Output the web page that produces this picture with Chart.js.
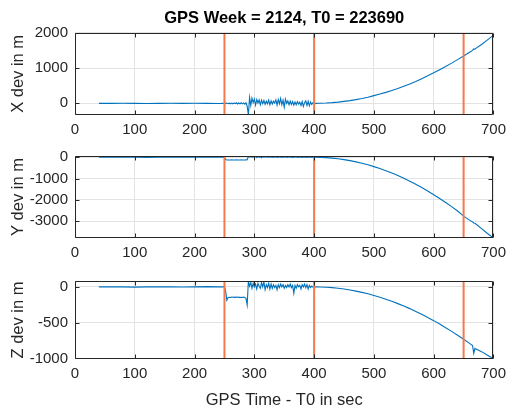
<!DOCTYPE html>
<html>
<head>
<meta charset="utf-8">
<script src="https://cdn.jsdelivr.net/npm/chart.js@4.4.1/dist/chart.umd.min.js"></script>
<style>
  html, body { margin: 0; padding: 0; background: #fff; }
  #wrap { position: relative; width: 512px; height: 411px; overflow: hidden; }
  .panel { position: absolute; left: 0; width: 512px; }
</style>
</head>
<body>
<div id="wrap">
  <div class="panel" style="top:0px;height:140px"><canvas id="cX" width="512" height="140"></canvas></div>
  <div class="panel" style="top:140px;height:125px"><canvas id="cY" width="512" height="125"></canvas></div>
  <div class="panel" style="top:265px;height:146px"><canvas id="cZ" width="512" height="146"></canvas></div>
</div>
<script>
// tiempo relativo a T0 (s)
const timeSec = [
  40, 60, 80, 100, 120, 140, 160, 180, 200, 220, 240, 250,
  252, 254, 256, 258, 260, 262, 264, 266, 268, 270, 272, 274, 276, 278, 280, 282, 284, 286, 288,
  290, 292, 294, 296, 298, 300, 302, 304, 306, 308,
  310, 312, 314, 316, 318, 320, 322, 324, 326, 328,
  330, 332, 334, 336, 338, 340, 342, 344, 346, 348,
  350, 352, 354, 356, 358, 360, 362, 364, 366, 368,
  370, 372, 374, 376, 378, 380, 382, 384, 386, 388,
  390, 392, 394, 396, 398, 400,
  410, 420, 430, 440, 450, 460, 470, 480, 490, 500, 510, 520, 530,
  540, 550, 560, 570, 580, 590, 600, 610, 620, 630, 640, 650, 660,
  665, 667, 669, 670, 680, 690, 700
];

// desviaciones en metros
const xDev = [
  0, 0, 2, 0, -2, 0, 3, 0, 2, 0, -2, 0,
  0, 8, -8, 5, -12, 8, -15, 12, -8, 15, -18, 10, -12, 18, -15, 12, -22, 15, -80,
  -330, 170, -60, 150, 20, 120, -50, 110, 10, 100,
  -40, 90, -10, 80, -30, 60, -10, 90, -40, 70,
  -20, 60, 10, 100, -50, 110, -10, 140, -40, 90,
  -110, 120, 0, 70, -40, 60, -30, 50, -50, 40,
  -40, 50, -20, 30, -60, 50, -90, 20, 70, -60,
  60, -70, 40, -30, 20, 0,
  2, 9, 20, 35, 55, 78, 105, 138, 175, 220, 265, 312, 365,
  420, 485, 550, 620, 700, 780, 865, 955, 1045, 1140, 1240, 1345, 1450,
  1500, 1545, 1535, 1550, 1670, 1800, 1935
];

const yDev = [
  0, 0, 5, 0, -5, 0, 5, 0, 0, 5, 0, 0,
  -110, -130, -128, -125, -127, -124, -126, -125, -128, -124, -126, -125, -127, -124, -126, -125, -127, -124, -120,
  50, 10, 40, -5, 30, 5, 35, -10, 30, 0,
  35, -20, 25, 5, 30, 0, 20, -10, 25, 0,
  15, -5, 20, 0, 15, -10, 20, 0, 15, -5,
  20, 0, 15, -5, 20, 0, 15, -5, 15, 0,
  20, -5, 15, 0, 15, -5, 15, 0, 10, -5,
  15, 0, 10, -5, 5, 0,
  -4, -18, -40, -70, -110, -158, -215, -282, -356, -440, -532, -634, -744,
  -862, -990, -1126, -1272, -1426, -1588, -1760, -1940, -2130, -2325, -2530, -2770, -2960,
  -3040, -3090, -3110, -3130, -3360, -3590, -3800
];

const zDev = [
  0, 2, 0, -3, 0, 2, 0, -2, 0, 3, 0, 0,
  -60, -188, -150, -145, -148, -142, -146, -144, -147, -143, -146, -144, -150, -145, -148, -143, -150, -160, -253,
  82, 10, 60, -20, 50, 0, 40, -30, 50, 10,
  -20, 60, 0, 70, -40, 30, -10, 50, -30, 40,
  -20, 30, -10, 20, -40, 30, -10, 40, 0, 30,
  -20, 20, -10, 30, 0, 40, -10, 20, -90, 20,
  -20, 30, 0, 20, -30, 30, 0, 40, -10, 30,
  -30, 20, -10, 10, -5, 0,
  -1, -5, -11, -19, -30, -43, -59, -77, -97, -120, -145, -172, -202,
  -234, -268, -304, -343, -384, -427, -472, -520, -570, -622, -676, -733, -790,
  -820, -930, -860, -865, -905, -955, -1005
];

// instantes marcados con líneas verticales
const eventTimes = [250, 400, 650];

const xTickVals = [0, 100, 200, 300, 400, 500, 600, 700];
const xTickValsY = [-3000, -2000, -1000, 0];
const yTickValsX = [0, 1000, 2000];
const zTickVals = [-1000, -500, 0];

const fontFam = "'Liberation Sans', Arial, Helvetica, sans-serif";
const textColor = "#262626";
const gridColor = "#e3e3e3";
const blue = "#0072bd";
const orange = "#f5794a";

// caja y marcas interiores estilo MATLAB
const boxPlugin = {
  id: "boxTicks",
  afterDatasetsDraw(chart) {
    const { ctx, chartArea: a, scales } = chart;
    const L = Math.round(a.left) + 0.5, R = Math.round(a.right) - 0.5;
    const T = Math.round(a.top) + 0.5, B = Math.round(a.bottom) - 0.5;
    ctx.save();
    ctx.strokeStyle = textColor;
    ctx.lineWidth = 1;
    ctx.beginPath();
    ctx.rect(L, T, R - L, B - T);
    scales.x.ticks.forEach((t) => {
      const px = Math.round(scales.x.getPixelForValue(t.value)) + 0.5;
      ctx.moveTo(px, B); ctx.lineTo(px, B - 4);
      ctx.moveTo(px, T); ctx.lineTo(px, T + 4);
    });
    scales.y.ticks.forEach((t) => {
      const py = Math.round(scales.y.getPixelForValue(t.value)) + 0.5;
      ctx.moveTo(L, py); ctx.lineTo(L + 4, py);
      ctx.moveTo(R, py); ctx.lineTo(R - 4, py);
    });
    ctx.stroke();
    ctx.restore();
  },
};

const plain = (v) => String(v);

function makePanel(id, values, yMin, yMax, yTicks, yTitle, cfg) {
  const series = timeSec.map((t, i) => ({ x: t, y: values[i] }));
  const eventSets = eventTimes.map((t) => ({
    data: [{ x: t, y: yMin }, { x: t, y: yMax }],
    borderColor: orange,
    borderWidth: 2,
    pointRadius: 0,
    order: 1,
  }));

  return new Chart(document.getElementById(id), {
    type: "line",
    data: {
      datasets: [
        ...eventSets,
        {
          data: series,
          borderColor: blue,
          borderWidth: 1.1,
          pointRadius: 0,
          tension: 0,
          order: 2,
        },
      ],
    },
    options: {
      responsive: false,
      animation: false,
      layout: { padding: { top: cfg.padTop, right: 15, left: 0, bottom: 0 } },
      plugins: {
        legend: { display: false },
        tooltip: { enabled: false },
        title: cfg.title
          ? {
              display: true,
              fullSize: false,
              text: cfg.title,
              color: "#000",
              font: { family: fontFam, size: 16.5, weight: "bold" },
              padding: { top: 9, bottom: 4 },
            }
          : { display: false },
      },
      scales: {
        x: {
          type: "linear",
          min: 0,
          max: 700,
          afterBuildTicks: (s) => { s.ticks = xTickVals.map((v) => ({ value: v })); },
          afterFit: (s) => { s.height = cfg.xHeight; },
          grid: { color: gridColor, drawTicks: false },
          border: { display: false },
          ticks: { color: textColor, padding: 6, maxRotation: 0, callback: plain, font: { family: fontFam, size: 15 } },
          title: cfg.xTitle
            ? {
                display: true,
                text: cfg.xTitle,
                color: textColor,
                font: { family: fontFam, size: 16.5 },
                padding: { top: 0, bottom: 1 },
              }
            : { display: false },
        },
        y: {
          type: "linear",
          min: yMin,
          max: yMax,
          afterBuildTicks: (s) => { s.ticks = yTicks.map((v) => ({ value: v })); },
          afterFit: (s) => { s.width = 75; },
          grid: { color: gridColor, drawTicks: false },
          border: { display: false },
          ticks: { color: textColor, padding: 7, callback: plain, font: { family: fontFam, size: 15 } },
          title: {
            display: true,
            text: yTitle,
            color: textColor,
            font: { family: fontFam, size: 16.5 },
            padding: { top: 9, bottom: 0 },
          },
        },
      },
    },
    plugins: [boxPlugin],
  });
}

makePanel("cX", xDev, -330, 2000, yTickValsX, "X dev in m", {
  padTop: 0, xHeight: 25, title: "GPS Week = 2124, T0 = 223690",
});
makePanel("cY", yDev, -3800, 60, xTickValsY, "Y dev in m", {
  padTop: 14, xHeight: 27,
});
makePanel("cZ", zDev, -1008, 82, zTickVals, "Z dev in m", {
  padTop: 11, xHeight: 52, xTitle: "GPS Time - T0 in sec",
});
</script>
</body>
</html>
